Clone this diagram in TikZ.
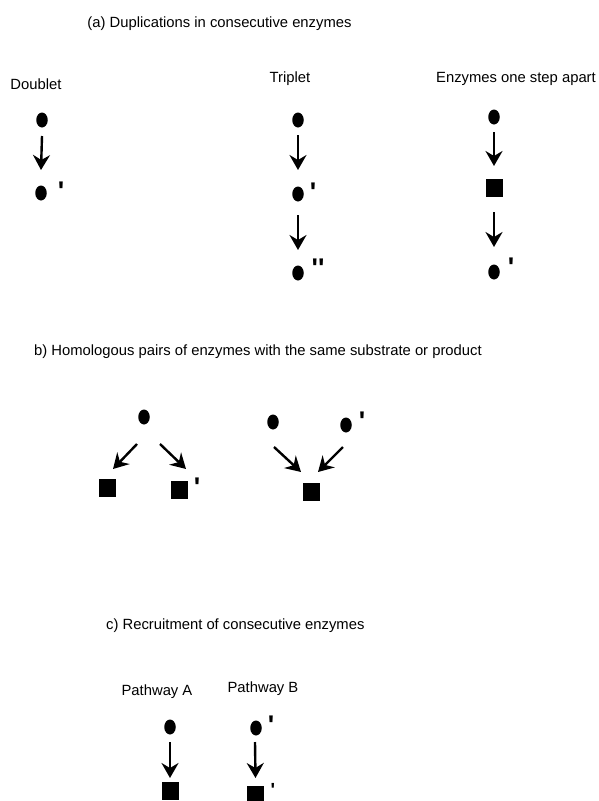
\documentclass[tikz,border=0pt]{standalone}
\usepackage{fontspec}
\setmainfont{Liberation Sans}
\newfontfamily\primefont{Liberation Sans}
\usetikzlibrary{arrows.meta,shapes.geometric}
\tikzset{
  lbl/.style={inner sep=0pt, anchor=base, font=\fontsize{14.8}{17}\selectfont},
  lblw/.style={lbl, anchor=base west},
  dot/.style={ellipse, fill=black, draw=none, minimum width=11.5pt, minimum height=15pt, inner sep=0pt},
  sq/.style={rectangle, fill=black, draw=none, minimum width=17pt, minimum height=18pt, inner sep=0pt},
  prm/.style={inner sep=0pt, anchor=north, font=\primefont\fontsize{27}{27}\bfseries\selectfont},
  prmsmall/.style={prm, font=\primefont\fontsize{19}{19}\bfseries\selectfont},
  arr/.style={line width=2.4pt, -{Stealth[length=15pt,width=17pt,inset=5pt]}}
}
\begin{document}
\begin{tikzpicture}[x=1pt,y=-1pt]
\useasboundingbox (0,0) rectangle (598,801);
% (a)
\node[lbl] (ta) at (219.5,27.5) {(a) Duplications in consecutive enzymes};
\node[lbl] (hd) at (36,89) {Doublet};
\node[lbl] (ht) at (290,82.5) {Triplet};
\node[lbl] (he) at (516,82) {Enzymes one step apart};
% doublet
\node[dot] (d1) at (42,120) {};
\node[dot] (d2) at (41,193) {};
\node[prm] (d2p) at (61,182) {'};
\draw[arr] ([shift={(0,16)}]d1.center) -- ([shift={(0,-23)}]d2.center);
% triplet
\node[dot] (t1) at (298,120) {};
\node[dot] (t2) at (298,194) {};
\node[dot] (t3) at (298,273) {};
\node[prm] (t2p) at (313,183) {'};
\node[prm] (t3p) at (318,259) {''};
\draw[arr] ([shift={(0,15)}]t1.center) -- ([shift={(0,-24)}]t2.center);
\draw[arr] ([shift={(0,21)}]t2.center) -- ([shift={(0,-23)}]t3.center);
% enzymes one step apart
\node[dot] (e1) at (494,117) {};
\node[sq] (e2) at (494,188) {};
\node[dot] (e3) at (494,272) {};
\node[prm] (e3p) at (511,258) {'};
\draw[arr] ([shift={(0,15)}]e1.center) -- ([shift={(0,-22)}]e2.center);
\draw[arr] ([shift={(0,24)}]e2.center) -- ([shift={(0,-25)}]e3.center);
% (b)
\node[lblw] (tb) at (34,355) {b) Homologous pairs of enzymes with the same substrate or product};
\node[dot] (b1) at (144,417) {};
\node[sq] (b2) at (107,488) {};
\node[sq] (b3) at (179.5,489.5) {};
\node[prm] (b3p) at (197,478) {'};
\draw[arr] ([shift={(-7,27)}]b1.center) -- ([shift={(6,-19)}]b2.center);
\draw[arr] ([shift={(16,27)}]b1.center) -- ([shift={(6.5,-20.5)}]b3.center);
\node[dot] (b4) at (273,422) {};
\node[dot] (b5) at (346,425) {};
\node[prm] (b5p) at (362,412) {'};
\node[sq] (b6) at (311.5,491.5) {};
\draw[arr] ([shift={(1,25)}]b4.center) -- ([shift={(-10.5,-19.5)}]b6.center);
\draw[arr] ([shift={(-3,22)}]b5.center) -- ([shift={(6.5,-19.5)}]b6.center);
% (c)
\node[lblw] (tc) at (106,629) {c) Recruitment of consecutive enzymes};
\node[lbl] (pa) at (157,695) {Pathway A};
\node[lbl] (pb) at (263,692) {Pathway B};
\node[dot] (c1) at (170,727) {};
\node[sq] (c2) at (170,791) {};
\draw[arr] ([shift={(0,15)}]c1.center) -- ([shift={(0,-13)}]c2.center);
\node[dot] (c3) at (256,728) {};
\node[prm] (c3p) at (271,716) {'};
\node[sq] (c4) at (255.5,795) {};
\node[prmsmall] (c4p) at (273,783) {'};
\draw[arr] ([shift={(-1,14)}]c3.center) -- ([shift={(0,-17)}]c4.center);
\end{tikzpicture}
\end{document}
